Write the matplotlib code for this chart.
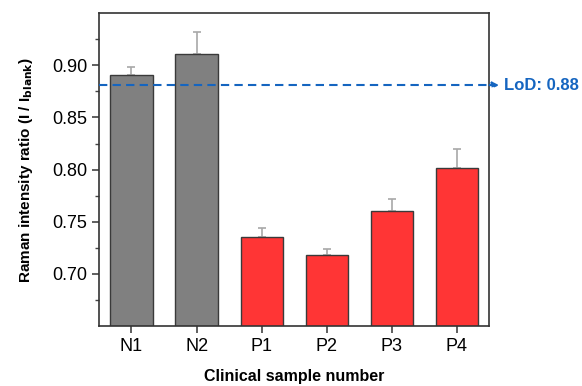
import matplotlib.pyplot as plt
import numpy as np

plt.rcParams['font.family'] = ['Liberation Sans', 'DejaVu Sans']

samples = ['N1', 'N2', 'P1', 'P2', 'P3', 'P4']
ratio = [0.891, 0.911, 0.735, 0.718, 0.760, 0.802]
err = [0.007, 0.021, 0.009, 0.006, 0.012, 0.018]
bar_colors = ['#808080', '#808080', '#ff3535', '#ff3535', '#ff3535', '#ff3535']
lod = 0.881

fig = plt.figure(figsize=(5.82, 3.86), dpi=100)
ax = fig.add_axes([0.170, 0.155, 0.671, 0.811])

x = np.arange(len(samples))
ax.bar(x, ratio, width=0.65, color=bar_colors, edgecolor='#3a3a3a', linewidth=1.0, zorder=2)
# error bars only upward, sit behind the bars
ax.errorbar(x, ratio, yerr=[np.zeros(len(err)), err], fmt='none', ecolor='#a8a8a8',
            elinewidth=1.2, capsize=3, capthick=1.2, zorder=1)

ax.set_xlim(-0.5, 5.5)
ax.set_ylim(0.65, 0.95)

ax.axhline(lod, color='#1565c0', linestyle=(0, (4, 2.5)), linewidth=1.5, zorder=3)
ax.annotate('', xy=(499 / 582, lod), xycoords=('figure fraction', 'data'),
            xytext=(1.0, lod), textcoords=('axes fraction', 'data'),
            arrowprops=dict(arrowstyle='-|>', color='#1565c0', lw=1.5, linestyle=(0, (4, 2.5)),
                            mutation_scale=9, shrinkA=0, shrinkB=0),
            annotation_clip=False)
ax.annotate('LoD: 0.88', xy=(504 / 582, lod), xycoords=('figure fraction', 'data'),
            color='#1565c0', fontsize=12, fontweight='bold', va='center', ha='left',
            annotation_clip=False)

ax.set_yticks([0.70, 0.75, 0.80, 0.85, 0.90])
ax.set_yticks(np.arange(0.675, 0.95, 0.05), minor=True)
ax.set_yticklabels(['0.70', '0.75', '0.80', '0.85', '0.90'])
ax.set_xticks(x)
ax.set_xticklabels(samples)
ax.tick_params(axis='both', which='major', direction='out', length=5, width=1.2, labelsize=13,
               color='#444444')
ax.tick_params(axis='y', which='minor', direction='out', length=3, width=1.0, color='#444444')
for s in ax.spines.values():
    s.set_linewidth(1.2)
    s.set_color('#333333')

ax.set_xlabel('Clinical sample number', fontsize=11.5, fontweight='bold', labelpad=10)
ax.set_ylabel(r'Raman intensity ratio (I / I$_{\mathbf{blank}}$)', fontsize=11, fontweight='bold',
              labelpad=12)

fig.savefig('out.png', dpi=100)
